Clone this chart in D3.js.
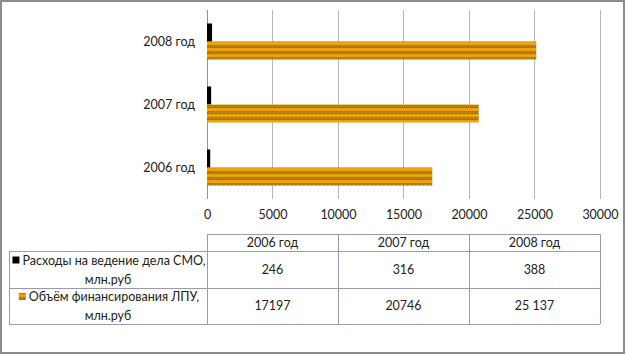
<!DOCTYPE html>
<html><head><meta charset="utf-8">
<script src="https://cdn.jsdelivr.net/npm/d3@7"></script>
<style>html,body{margin:0;padding:0;background:#fff;}svg{display:block;}</style>
</head><body>
<svg id="c" width="626" height="356"></svg>
<script>
const categories = ["2006 год", "2007 год", "2008 год"];
const seriesNames = ["Расходы на ведение дела СМО, млн.руб", "Объём финансирования ЛПУ, млн.руб"];
const seriesLines = [["Расходы на ведение дела СМО,", "млн.руб"], ["Объём финансирования ЛПУ,", "млн.руб"]];
const costsSMO = [246, 316, 388];
const fundingLPU = [17197, 20746, 25137];
const fundingLabels = ["17197", "20746", "25 137"];
const costsLabels = ["246", "316", "388"];
const xTicks = [0, 5000, 10000, 15000, 20000, 25000, 30000];

const svg = d3.select("#c");
const font = "Lato, 'Open Sans', sans-serif";

// pattern for orange bars
const defs = svg.append("defs");
const pat = defs.append("pattern").attr("id", "stripe").attr("patternUnits", "userSpaceOnUse")
  .attr("width", 4).attr("height", 6);
pat.append("rect").attr("width", 4).attr("height", 6).attr("fill", "#EFA000");
pat.append("rect").attr("y", 3).attr("width", 4).attr("height", 3).attr("fill", "#A07A10");
pat.append("rect").attr("x", 1).attr("y", 4).attr("width", 1).attr("height", 1).attr("fill", "#E8A800");
pat.append("rect").attr("x", 3).attr("y", 3).attr("width", 1).attr("height", 1).attr("fill", "#C88C00");
pat.append("rect").attr("x", 0).attr("y", 1).attr("width", 1).attr("height", 1).attr("fill", "#F5B020");

// frame
svg.append("rect").attr("x", 1).attr("y", 1).attr("width", 623).attr("height", 352)
  .attr("fill", "#fff").attr("stroke", "#8c8c8c").attr("stroke-width", 2);

const x = d3.scaleLinear().domain([0, 30000]).range([207, 600]);
const y = d3.scaleBand().domain(categories.slice().reverse()).range([10, 199]);
const ySub = d3.scaleBand().domain([0, 1]).range([0, y.bandwidth()]).paddingInner(0).paddingOuter(0.75);

// gridlines
svg.append("g").selectAll("line").data(xTicks.slice(1)).join("line")
  .attr("x1", d => x(d)).attr("x2", d => x(d)).attr("y1", 10).attr("y2", 199)
  .attr("stroke", "#b8b8b8").attr("stroke-width", 1).attr("shape-rendering", "crispEdges");
svg.append("line").attr("x1", x(0)).attr("x2", x(0)).attr("y1", 10).attr("y2", 199)
  .attr("stroke", "#9090a8").attr("stroke-width", 1).attr("shape-rendering", "crispEdges");

// bars
const data = categories.map((c, i) => ({c, v: [costsSMO[i], fundingLPU[i]]}));
const g = svg.append("g");
data.forEach(d => {
  g.append("rect").attr("x", x(0)).attr("y", y(d.c) + ySub(0))
    .attr("width", x(d.v[0]) - x(0)).attr("height", ySub.bandwidth()).attr("fill", "#000");
  g.append("rect").attr("x", x(0)).attr("y", y(d.c) + ySub(1))
    .attr("width", x(d.v[1]) - x(0)).attr("height", ySub.bandwidth()).attr("fill", "url(#stripe)");
});

// category labels
svg.append("g").selectAll("text").data(categories).join("text")
  .attr("x", 195).attr("y", d => y(d) + y.bandwidth() / 2).attr("dy", "0.35em")
  .attr("text-anchor", "end").attr("font-family", font).attr("font-size", 12.5).attr("fill", "#222")
  .text(d => d);

// x tick labels
const xAxis = d3.axisBottom(x).tickValues(xTicks).tickSize(0).tickFormat(d3.format("d"));
const ax = svg.append("g").attr("transform", "translate(0,207)").call(xAxis);
ax.select(".domain").remove();
ax.selectAll("text").attr("font-family", font).attr("font-size", 12.5).attr("fill", "#222");

// data table
const colX = [207, 338, 469, 600];
const rowY = [234, 251, 288, 324];
const tb = svg.append("g").attr("shape-rendering", "crispEdges");
const bc = "#9a9ab8";
// horizontal lines
tb.append("line").attr("x1", 207).attr("x2", 600).attr("y1", rowY[0]).attr("y2", rowY[0]).attr("stroke", bc);
[1, 2, 3].forEach(r => tb.append("line").attr("x1", 9).attr("x2", 600).attr("y1", rowY[r]).attr("y2", rowY[r]).attr("stroke", bc));
// vertical lines
tb.append("line").attr("x1", 9).attr("x2", 9).attr("y1", rowY[1]).attr("y2", rowY[3]).attr("stroke", bc);
colX.forEach(cx => tb.append("line").attr("x1", cx).attr("x2", cx).attr("y1", rowY[0]).attr("y2", rowY[3]).attr("stroke", bc));

const tf = t => t.attr("font-family", font).attr("font-size", 12.5).attr("fill", "#222").attr("text-anchor", "middle");
// header
categories.forEach((c, i) => {
  svg.append("text").attr("x", (colX[i] + colX[i + 1]) / 2).attr("y", (rowY[0] + rowY[1]) / 2).attr("dy", "0.35em").call(tf).text(c);
});
// values
[costsLabels, fundingLabels].forEach((vals, r) => {
  vals.forEach((v, i) => {
    svg.append("text").attr("x", (colX[i] + colX[i + 1]) / 2).attr("y", (rowY[r + 1] + rowY[r + 2]) / 2).attr("dy", "0.35em").call(tf).text(v);
  });
});
// row headers with legend keys
seriesLines.forEach((lines, r) => {
  const cy = (rowY[r + 1] + rowY[r + 2]) / 2;
  const t1 = svg.append("text").attr("x", 114).attr("y", cy - 9).attr("dy", "0.35em").call(tf).text(lines[0]);
  svg.append("text").attr("x", 108).attr("y", cy + 10).attr("dy", "0.35em").call(tf).text(lines[1]);
  const bb = t1.node().getBBox();
  svg.append("rect").attr("x", bb.x - 10).attr("y", cy - 13).attr("width", 7).attr("height", 7)
    .attr("fill", r === 0 ? "#000" : "url(#stripe)");
});
</script>
</body></html>
